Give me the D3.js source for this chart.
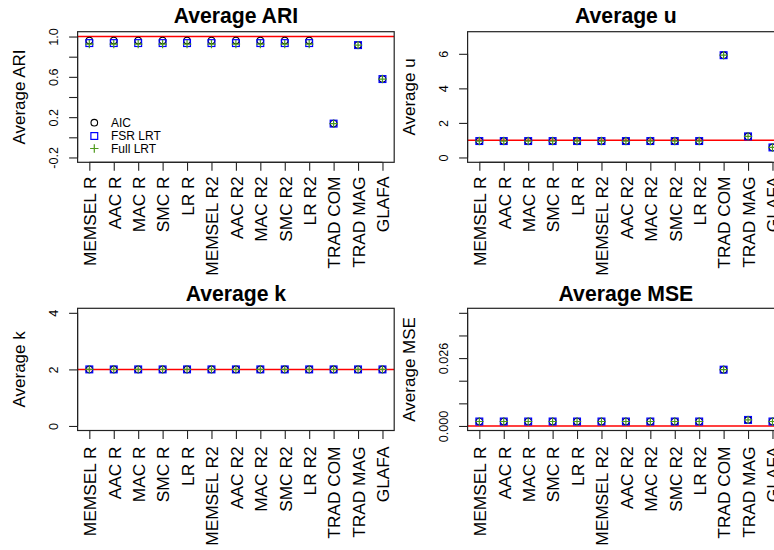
<!DOCTYPE html>
<html>
<head>
<meta charset="utf-8">
<script src="https://cdn.jsdelivr.net/npm/d3@7"></script>
<style>
  html, body { margin: 0; padding: 0; background: #fff; overflow: hidden; }
  svg { display: block; font-family: "Liberation Sans", Arial, Helvetica, sans-serif; }
</style>
</head>
<body>
<svg id="chart" width="774" height="550"></svg>
<script>
// ---------------- DATA ----------------
const categories = ["MEMSEL R","AAC R","MAC R","SMC R","LR R","MEMSEL R2","AAC R2","MAC R2","SMC R2","LR R2","TRAD COM","TRAD MAG","GLAFA"];
const seriesNames = ["AIC","FSR LRT","Full LRT"];

const ariAIC  = [0.96,0.96,0.96,0.96,0.96,0.96,0.96,0.96,0.96,0.96,0.136,0.915,0.578];
const ariFSR  = [0.935,0.935,0.935,0.935,0.935,0.935,0.935,0.935,0.935,0.935,0.136,0.915,0.578];
const ariFull = [0.925,0.925,0.925,0.925,0.925,0.925,0.925,0.925,0.925,0.925,0.136,0.915,0.578];

const uAIC  = [0.95,0.95,0.95,0.95,0.95,0.95,0.95,0.95,0.95,0.95,5.92,1.22,0.58];
const uFSR  = [0.95,0.95,0.95,0.95,0.95,0.95,0.95,0.95,0.95,0.95,5.92,1.22,0.58];
const uFull = [0.95,0.95,0.95,0.95,0.95,0.95,0.95,0.95,0.95,0.95,5.92,1.22,0.58];

const kAIC  = [2,2,2,2,2,2,2,2,2,2,2,2,2];
const kFSR  = [2,2,2,2,2,2,2,2,2,2,2,2,2];
const kFull = [2,2,2,2,2,2,2,2,2,2,2,2,2];

const mseAIC  = [0.0017,0.0017,0.0017,0.0017,0.0017,0.0017,0.0017,0.0017,0.0017,0.0017,0.0214,0.0023,0.0017];
const mseFSR  = [0.0017,0.0017,0.0017,0.0017,0.0017,0.0017,0.0017,0.0017,0.0017,0.0017,0.0214,0.0023,0.0017];
const mseFull = [0.0017,0.0017,0.0017,0.0017,0.0017,0.0017,0.0017,0.0017,0.0017,0.0017,0.0214,0.0023,0.0017];

// y limits, reference lines, ticks
const ariLim = [-0.2, 1.0], ariRef = 1.0;
const ariTicks = [-0.2, 0.0, 0.2, 0.4, 0.6, 0.8, 1.0];
const ariTickLabels = ["-0.2", "", "0.2", "", "0.6", "", "1.0"];

const uLim = [0, 7], uRef = 1;
const uTicks = [0, 2, 4, 6];
const uTickLabels = ["0", "2", "4", "6"];

const kLim = [0, 4], kRef = 2;
const kTicks = [0, 2, 4];
const kTickLabels = ["0", "2", "4"];

const mseLim = [0, 0.043], mseRef = 0;
const mseTicks = [0, 0.0086, 0.0172, 0.0258, 0.0344, 0.043];
const mseTickLabels = ["0.000", "", "", "0.026", "", ""];

// ---------------- LAYOUT ----------------
const svg = d3.select("#chart");
const colors = { circle: "#000000", square: "#0000FF", plus: "#4E9A1C" };

const panels = [
  { title: "Average ARI", ylab: "Average ARI", series: [ariAIC, ariFSR, ariFull], lim: ariLim, ref: ariRef,
    ticks: ariTicks, labels: ariTickLabels, box: [77.6, 394.2, 31.7, 162.3], titleY: 22.7, xlabEnd: 176.5, legend: true },
  { title: "Average u", ylab: "Average u", series: [uAIC, uFSR, uFull], lim: uLim, ref: uRef,
    ticks: uTicks, labels: uTickLabels, box: [467.6, 784.2, 31.7, 162.3], titleY: 22.7, xlabEnd: 176.5, legend: false },
  { title: "Average k", ylab: "Average k", series: [kAIC, kFSR, kFull], lim: kLim, ref: kRef,
    ticks: kTicks, labels: kTickLabels, box: [77.6, 394.2, 308.3, 430.5], titleY: 300.5, xlabEnd: 446.5, legend: false },
  { title: "Average MSE", ylab: "Average MSE", series: [mseAIC, mseFSR, mseFull], lim: mseLim, ref: mseRef,
    ticks: mseTicks, labels: mseTickLabels, box: [467.6, 784.2, 308.3, 430.5], titleY: 300.5, xlabEnd: 446.5, legend: false }
];

function drawSymbol(g, type, cx, cy) {
  if (type === 0) {
    g.append("circle").attr("cx", cx).attr("cy", cy).attr("r", 3.3)
      .attr("fill", "none").attr("stroke", colors.circle).attr("stroke-width", 1.1);
  } else if (type === 1) {
    g.append("rect").attr("x", cx - 3.4).attr("y", cy - 3.4).attr("width", 6.8).attr("height", 6.8)
      .attr("fill", "none").attr("stroke", colors.square).attr("stroke-width", 1.2);
  } else {
    const s = 4.2;
    g.append("path").attr("d", `M${cx - s},${cy}H${cx + s}M${cx},${cy - s}V${cy + s}`)
      .attr("fill", "none").attr("stroke", colors.plus).attr("stroke-width", 1.2);
  }
}

panels.forEach(p => {
  const [x0, x1, y0, y1] = p.box;
  const n = categories.length;
  const xpad = (n - 1) * 0.04;
  const x = d3.scaleLinear().domain([1 - xpad, n + xpad]).range([x0, x1]);
  const ypad = (p.lim[1] - p.lim[0]) * 0.04;
  const y = d3.scaleLinear().domain([p.lim[0] - ypad, p.lim[1] + ypad]).range([y1, y0]);

  const g = svg.append("g");

  // clip for plot region
  const clipId = "clip" + Math.round(x0) + "_" + Math.round(y0);
  svg.append("clipPath").attr("id", clipId).append("rect")
    .attr("x", x0).attr("y", y0).attr("width", x1 - x0).attr("height", y1 - y0);

  // reference line
  g.append("line").attr("clip-path", `url(#${clipId})`)
    .attr("x1", x0).attr("x2", x1).attr("y1", y(p.ref)).attr("y2", y(p.ref))
    .attr("stroke", "#FF0000").attr("stroke-width", 1.5);

  // points
  const pts = g.append("g").attr("clip-path", `url(#${clipId})`);
  p.series.forEach((vals, si) => {
    vals.forEach((v, i) => drawSymbol(pts, si, x(i + 1), y(v)));
  });

  // box
  g.append("rect").attr("x", x0).attr("y", y0).attr("width", x1 - x0).attr("height", y1 - y0)
    .attr("fill", "none").attr("stroke", "#222").attr("stroke-width", 1.2);

  // y axis
  const yAxis = d3.axisLeft(y).tickValues(p.ticks).tickSize(8.5).tickSizeOuter(0)
    .tickFormat((d, i) => p.labels[i]);
  const ya = g.append("g").attr("transform", `translate(${x0},0)`).call(yAxis);
  ya.select(".domain").attr("d", `M0,${y(p.ticks[0])}V${y(p.ticks[p.ticks.length - 1])}`)
    .attr("stroke", "#222").attr("stroke-width", 1.1);
  ya.selectAll(".tick line").attr("stroke", "#222").attr("stroke-width", 1.1);
  ya.selectAll(".tick text")
    .attr("transform", "rotate(-90)")
    .attr("x", 0).attr("y", -19.9).attr("dy", 0)
    .attr("text-anchor", "middle")
    .attr("font-size", 12.6).attr("fill", "#000")
    .attr("font-family", "'Liberation Sans', Arial, Helvetica, sans-serif");

  // x axis
  const xAxis = d3.axisBottom(x).tickValues(d3.range(1, n + 1)).tickSize(8.5).tickSizeOuter(0)
    .tickFormat(d => categories[d - 1]);
  const xa = g.append("g").attr("transform", `translate(0,${y1})`).call(xAxis);
  xa.select(".domain").attr("d", `M${x(1)},0H${x(n)}`).attr("stroke", "#222").attr("stroke-width", 1.1);
  xa.selectAll(".tick line").attr("stroke", "#222").attr("stroke-width", 1.1);
  xa.selectAll(".tick text")
    .attr("transform", "rotate(-90)")
    .attr("x", -(p.xlabEnd - y1)).attr("y", 6.3).attr("dy", 0)
    .attr("text-anchor", "end")
    .attr("font-size", 17.3).attr("fill", "#000")
    .attr("font-family", "'Liberation Sans', Arial, Helvetica, sans-serif");

  // title
  g.append("text").attr("x", (x0 + x1) / 2).attr("y", p.titleY)
    .attr("text-anchor", "middle").attr("font-size", 21.2).attr("font-weight", "bold")
    .attr("fill", "#000").text(p.title);

  // y label
  g.append("text")
    .attr("transform", `translate(${x0 - 52.6},${(y0 + y1) / 2}) rotate(-90)`)
    .attr("text-anchor", "middle").attr("font-size", 17).attr("fill", "#000").text(p.ylab);

  // legend
  if (p.legend) {
    const lx = x0 + 16.7, tx = x0 + 33.4;
    const lys = [122.7, 136.0, 148.5];
    seriesNames.forEach((name, si) => {
      drawSymbol(g, si, lx, lys[si]);
      g.append("text").attr("x", tx).attr("y", lys[si]).attr("dy", "0.36em")
        .attr("font-size", 12).attr("fill", "#000").text(name);
    });
  }
});
</script>
</body>
</html>
